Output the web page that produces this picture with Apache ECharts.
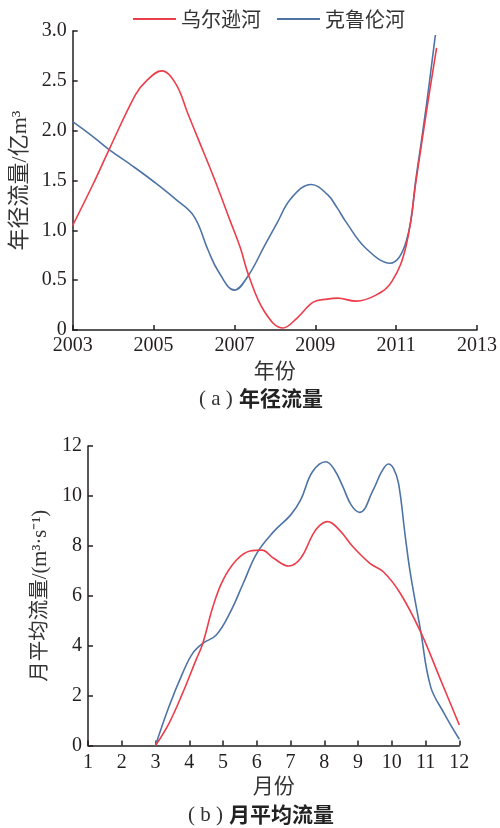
<!DOCTYPE html>
<html><head><meta charset="utf-8">
<script src="https://cdn.jsdelivr.net/npm/echarts@6/dist/echarts.min.js"></script>
<style>html,body{margin:0;padding:0;background:#fff}#c{width:500px;height:828px}</style>
</head><body><div id="c"></div>
<script>
// ---- data ----
const seriesNames = ['乌尔逊河', '克鲁伦河'];
const colors = ['#ec3d4b', '#4e74a6'];

// (a) annual runoff, 10^8 m3
const yearRed = [2003, 2003.5, 2003.9, 2004.55, 2004.8, 2005.2, 2005.55, 2005.85, 2006.1, 2006.5, 2006.9, 2007.15, 2007.35, 2007.75, 2008.2, 2008.55, 2008.95, 2009.3, 2009.55, 2010.0, 2010.5, 2010.9, 2011.25, 2011.5, 2011.75, 2012.0];
const flowRed = [1.05, 1.46, 1.81, 2.36, 2.49, 2.60, 2.47, 2.17, 1.92, 1.52, 1.09, 0.82, 0.55, 0.18, 0.02, 0.12, 0.28, 0.31, 0.32, 0.29, 0.35, 0.49, 0.85, 1.52, 2.19, 2.83];
const yearBlue = [2003, 2003.5, 2003.9, 2004.5, 2005.0, 2005.55, 2006.0, 2006.35, 2006.6, 2007.0, 2007.35, 2007.75, 2008.05, 2008.4, 2008.9, 2009.3, 2009.55, 2009.75, 2010.25, 2010.85, 2011.25, 2011.5, 2011.75, 2011.97];
const flowBlue = [2.09, 1.94, 1.81, 1.64, 1.49, 1.31, 1.14, 0.80, 0.59, 0.40, 0.55, 0.85, 1.07, 1.32, 1.46, 1.36, 1.22, 1.09, 0.82, 0.67, 0.89, 1.55, 2.26, 2.96];

// (b) mean monthly discharge, m3/s
const monthRed = [3, 3.4, 3.8, 4.2, 4.4, 4.7, 5.0, 5.4, 5.8, 6.15, 6.5, 6.95, 7.3, 7.65, 7.85, 8.1, 8.45, 8.85, 9.35, 9.75, 10.25, 10.85, 11.45, 12];
const qRed = [0, 0.89, 2.09, 3.43, 4.09, 5.56, 6.63, 7.43, 7.79, 7.83, 7.50, 7.19, 7.50, 8.43, 8.80, 8.97, 8.63, 7.96, 7.30, 6.96, 6.10, 4.56, 2.62, 0.82];
const monthBlue = [3, 3.4, 3.8, 4.1, 4.4, 4.8, 5.2, 5.6, 6.0, 6.5, 7.0, 7.3, 7.65, 8.05, 8.3, 8.55, 8.8, 9.05, 9.45, 9.7, 9.9, 10.05, 10.2, 10.4, 10.55, 10.85, 11.15, 11.55, 12];
const qBlue = [0, 1.56, 2.89, 3.69, 4.09, 4.43, 5.30, 6.50, 7.70, 8.57, 9.23, 9.84, 10.97, 11.37, 11.05, 10.37, 9.63, 9.34, 10.24, 10.97, 11.28, 11.10, 10.50, 8.37, 6.90, 4.63, 2.36, 1.29, 0.25];

const zip = (xs, ys) => xs.map((x, i) => [x, ys[i]]);

// ---- styles ----
const ink = '#231f20';
const serif = "'Liberation Serif', 'Times New Roman', serif";
const cjk = "'Noto Sans CJK SC', sans-serif";
const axisLine = { show: true, lineStyle: { color: ink, width: 1.5 } };
const axisTick = { show: true, inside: true, length: 5, lineStyle: { color: ink, width: 1.5 } };
const label = (fmt, margin) => ({ color: ink, fontFamily: serif, fontSize: 20, margin: margin, formatter: fmt });
const nameStyle = (size) => ({ color: '#333', fontFamily: serif + ", " + cjk, fontSize: size });

const chart = echarts.init(document.getElementById('c'), null, { renderer: 'canvas' });
chart.setOption({
  animation: false,
  backgroundColor: '#fff',
  color: colors,
  legend: {
    data: seriesNames,
    left: 128, top: 4,
    icon: 'rect', itemWidth: 43, itemHeight: 2, itemGap: 16,
    textStyle: { fontFamily: cjk, fontSize: 20, color: '#333' }
  },
  grid: [
    { left: 72.7, top: 31, width: 410.3, height: 299, containLabel: false },
    { left: 88, top: 446, width: 371.3, height: 299.5, containLabel: false }
  ],
  xAxis: [
    { type: 'value', gridIndex: 0, min: 2003, max: 2013, interval: 2,
      name: '年份', nameLocation: 'middle', nameGap: 32, nameTextStyle: nameStyle(21),
      axisLine, axisTick, splitLine: { show: false },
      axisLabel: label(v => String(v), 6) },
    { type: 'value', gridIndex: 1, min: 1, max: 12, interval: 1,
      name: '月份', nameLocation: 'middle', nameGap: 31, nameTextStyle: nameStyle(21),
      axisLine, axisTick, splitLine: { show: false },
      axisLabel: label(v => String(v), 7) }
  ],
  yAxis: [
    { type: 'value', gridIndex: 0, min: 0, max: 3, interval: 0.5,
      name: '年径流量/亿m³', nameLocation: 'middle', nameGap: 41, nameRotate: 90, nameTextStyle: nameStyle(22),
      axisLine, axisTick, splitLine: { show: false },
      axisLabel: label(v => v === 0 ? '0' : v.toFixed(1), 6) },
    { type: 'value', gridIndex: 1, min: 0, max: 12, interval: 2,
      name: '月平均流量/(m³·s⁻¹)', nameLocation: 'middle', nameGap: 29, nameRotate: 90, nameTextStyle: nameStyle(20.5),
      axisLine, axisTick, splitLine: { show: false },
      axisLabel: label(v => String(v), 6) }
  ],
  series: [
    { name: seriesNames[0], type: 'line', xAxisIndex: 0, yAxisIndex: 0, data: zip(yearRed, flowRed),
      smooth: 0.4, symbol: 'none', lineStyle: { width: 1.6, color: colors[0] }, z: 3 },
    { name: seriesNames[1], type: 'line', xAxisIndex: 0, yAxisIndex: 0, data: zip(yearBlue, flowBlue),
      smooth: 0.4, symbol: 'none', lineStyle: { width: 1.6, color: colors[1] }, z: 2 },
    { name: seriesNames[0], type: 'line', xAxisIndex: 1, yAxisIndex: 1, data: zip(monthRed, qRed),
      smooth: 0.4, symbol: 'none', lineStyle: { width: 1.6, color: colors[0] }, z: 3 },
    { name: seriesNames[1], type: 'line', xAxisIndex: 1, yAxisIndex: 1, data: zip(monthBlue, qBlue),
      smooth: 0.4, symbol: 'none', lineStyle: { width: 1.6, color: colors[1] }, z: 2 }
  ],
  graphic: [
    { type: 'text', left: 199, top: 389, style: { text: '( a )', font: '21px ' + serif, fill: '#333' } },
    { type: 'text', left: 239, top: 388, style: { text: '年径流量', font: 'bold 21px ' + cjk, fill: '#222' } },
    { type: 'text', left: 188, top: 805, style: { text: '( b )', font: '21px ' + serif, fill: '#333' } },
    { type: 'text', left: 229, top: 804, style: { text: '月平均流量', font: 'bold 21px ' + cjk, fill: '#222' } }
  ]
});
</script>
</body></html>
